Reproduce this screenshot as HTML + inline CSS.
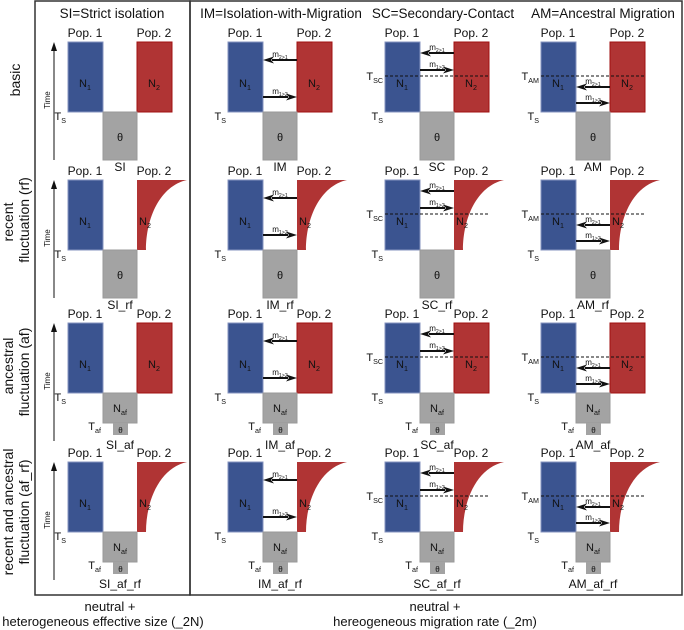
<!DOCTYPE html>
<html><head><meta charset="utf-8"><style>
html,body{margin:0;padding:0;background:#fff;}
svg{display:block;font-family:"Liberation Sans","DejaVu Sans",sans-serif;}
</style></head><body>
<svg id="fig" width="684" height="630" viewBox="0 0 684 630">
<rect x="35" y="1" width="155" height="594" fill="none" stroke="#333" stroke-width="1.5"/>
<rect x="190" y="1" width="492" height="594" fill="none" stroke="#333" stroke-width="1.5"/>
<g font-size="13.5" text-anchor="middle" fill="#111">
<text x="112" y="18">SI=Strict isolation</text>
<text x="281" y="18">IM=Isolation-with-Migration</text>
<text x="443" y="18">SC=Secondary-Contact</text>
<text x="603" y="18">AM=Ancestral Migration</text>
</g>
<g font-size="14" text-anchor="middle" fill="#111">
<text transform="translate(20,80) rotate(-90)">basic</text>
<text transform="translate(13,222) rotate(-90)">recent</text>
<text transform="translate(29,220) rotate(-90)">fluctuation (rf)</text>
<text transform="translate(13,366) rotate(-90)">ancestral</text>
<text transform="translate(29,372) rotate(-90)">fluctuation (af)</text>
<text transform="translate(13,512) rotate(-90)">recent and ancestral</text>
<text transform="translate(29,512) rotate(-90)">fluctuation (af_rf)</text>
</g>
<g font-size="13" text-anchor="middle" fill="#111">
<text x="110" y="611">neutral +</text>
<text x="103" y="626">heterogeneous effective size (_2N)</text>
<text x="435" y="611">neutral +</text>
<text x="435" y="626">hereogeneous migration rate (_2m)</text>
</g>
<g id="models"></g>
</svg>
<script>
const models = ['SI','IM','SC','AM'];
const colX = [68, 228, 385, 541];
const rowTop = [42, 180, 323, 462];
const suffixes = ['', '_rf', '_af', '_af_rf'];
const rowRF = [false, true, false, true];
const rowAF = [false, false, true, true];

const NS = 'http://www.w3.org/2000/svg';
const root = document.getElementById('models');
function mk(parent, tag, attrs, txt){
  const e = document.createElementNS(NS, tag);
  for (const k in attrs) e.setAttribute(k, attrs[k]);
  if (txt !== undefined) e.textContent = txt;
  parent.appendChild(e);
  return e;
}
function subText(parent, x, y, base, sub, size, anchor){
  const t = mk(parent, 'text', {x:x, y:y, 'font-size':size, 'text-anchor':anchor||'middle', fill:'#111'});
  mk(t, 'tspan', {}, base);
  mk(t, 'tspan', {'font-size':size*0.65, dy:size*0.25}, sub);
  return t;
}
function arrow(parent, x1, x2, y, label){
  const g = mk(parent, 'g', {});
  const dir = x2 > x1 ? 1 : -1;
  mk(g, 'line', {x1:x1, y1:y, x2:x2 - dir*9, y2:y, stroke:'#111', 'stroke-width':2});
  mk(g, 'polygon', {points:`${x2},${y} ${x2-dir*11},${y-3.5} ${x2-dir*8},${y} ${x2-dir*11},${y+3.5}`, fill:'#111'});
  subText(g, (x1+x2)/2, y-3, 'm', label, 8);
  return g;
}

models.forEach((m, c) => {
  const x0 = colX[c];
  rowTop.forEach((top, r) => {
    const bottom = top + 70;
    const g = mk(root, 'g', {});
    
    
    mk(g, 'text', {x:x0+17, y:top-5, 'font-size':12, 'text-anchor':'middle', fill:'#111'}, 'Pop. 1');
    mk(g, 'text', {x:x0+86, y:top-5, 'font-size':12, 'text-anchor':'middle', fill:'#111'}, 'Pop. 2');
    const p1 = mk(g, 'rect', {x:x0, y:top, width:35, height:70, fill:'#3b5490', stroke:'#8593bf', 'stroke-width':1});
    
    
    let p2;
    if (rowRF[r]) {
      p2 = mk(g, 'path', {d:`M${x0+69},${top} L${x0+119},${top} C${x0+92},${top+6} ${x0+78},${top+38} ${x0+78},${bottom} L${x0+69},${bottom} Z`, fill:'#b03434'});
    } else {
      p2 = mk(g, 'rect', {x:x0+69, y:top, width:35, height:70, fill:'#b03434', stroke:'#a01010', 'stroke-width':1});
    }
    
    
    subText(g, x0+17, top+45, 'N', '1', 11);
    subText(g, rowRF[r] ? x0+77 : x0+86, top+45, 'N', '2', 11);
    const gx = x0+35, gc = x0+52;
    let nameY;
    if (!rowAF[r]) {
      const a = mk(g, 'rect', {x:gx, y:bottom, width:34, height:48, fill:'#a3a3a3', stroke:'#999'});
      
      
      mk(g, 'text', {x:gc, y:bottom+29, 'font-size':11, 'text-anchor':'middle', fill:'#111'}, 'θ');
      nameY = bottom + 59;
    } else {
      const a = mk(g, 'rect', {x:gx, y:bottom, width:34, height:30, fill:'#a3a3a3', stroke:'#999'});
      
      
      subText(g, gc, bottom+19, 'N', 'af', 11);
      const s = mk(g, 'rect', {x:x0+45, y:bottom+30, width:15, height:12, fill:'#a3a3a3'});
      
      
      mk(g, 'text', {x:x0+52.5, y:bottom+40, 'font-size':8, 'text-anchor':'middle', fill:'#111'}, 'θ');
      subText(g, x0+33, bottom+37, 'T', 'af', 11, 'end');
      nameY = bottom + 56;
    }
    mk(g, 'text', {x:gc, y:nameY, 'font-size':12, 'text-anchor':'middle', fill:'#111'}, m + suffixes[r]);
    subText(g, x0-2, bottom+8, 'T', 'S', 11, 'end');
    if (m === 'SI') {
      mk(g, 'line', {x1:x0-14, y1:bottom+48, x2:x0-14, y2:top+6, stroke:'#111', 'stroke-width':1});
      mk(g, 'polygon', {points:`${x0-14},${top} ${x0-17},${top+9} ${x0-11},${top+9}`, fill:'#111'});
      mk(g, 'text', {transform:`translate(${x0-18},${top+58}) rotate(-90)`, 'font-size':8, 'text-anchor':'middle', fill:'#111'}, 'Time');
    } else if (m === 'IM') {
      arrow(g, x0+69, x0+35, top+18, '2>1');
      arrow(g, x0+35, x0+69, top+55, '1>2');
    } else {
      mk(g, 'line', {x1:x0, y1:top+34, x2:x0+104, y2:top+34, stroke:'#111', 'stroke-width':1, 'stroke-dasharray':'3,2'});
      subText(g, x0-2, top+38, 'T', m, 11, 'end');
      if (m === 'SC') {
        arrow(g, x0+69, x0+35, top+11, '2>1');
        arrow(g, x0+35, x0+69, top+28, '1>2');
      } else {
        arrow(g, x0+69, x0+35, top+45, '2>1');
        arrow(g, x0+35, x0+69, top+61, '1>2');
      }
    }
  });
});
</script>
</body></html>
